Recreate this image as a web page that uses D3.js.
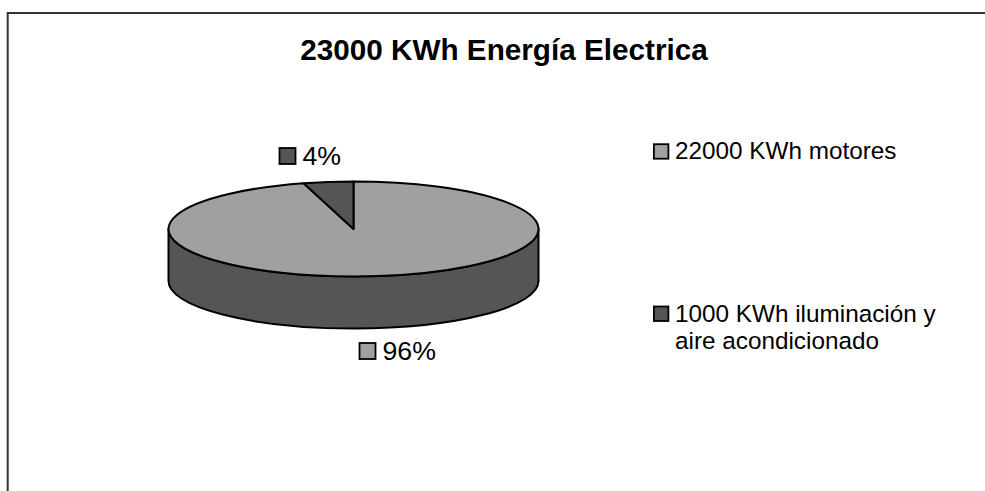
<!DOCTYPE html>
<html>
<head>
<meta charset="utf-8">
<script src="https://cdn.jsdelivr.net/npm/d3@7"></script>
<style>
  html, body { margin: 0; padding: 0; background: #fff; }
  svg { display: block; }
  text { font-family: "Liberation Sans", Arial, sans-serif; fill: #000; }
</style>
</head>
<body>
<div id="chart"></div>
<script>
/* chart data */
var titleText = "23000 KWh Energía Electrica";
var categories = ["22000 KWh motores", "1000 KWh iluminación y\naire acondicionado"];
var kwh = [22000, 1000];
var percentLabels = ["96%", "4%"];
var colors = ["#a0a0a0", "#555555"];

var width = 985, height = 491;
var cx = 353.5, cy = 229, rx = 185, ry = 47.5, depth = 52;

var svg = d3.select("#chart").append("svg")
            .attr("width", width)
            .attr("height", height);

/* outer frame, runs off the picture on the right and bottom */
svg.append("path")
   .attr("d", "M7.7," + height + "V13H" + width)
   .attr("fill", "none")
   .attr("stroke", "#333")
   .attr("stroke-width", 2);

svg.append("text")
   .attr("x", 504)
   .attr("y", 59.5)
   .attr("text-anchor", "middle")
   .style("font-size", "29.7px")
   .style("font-weight", "bold")
   .text(titleText);

var color = d3.scaleOrdinal().domain(categories).range(colors);

var pie = d3.pie().sort(null).value(function(d){ return d.value; });
var slices = pie(categories.map(function(c, i){
  return {name: c, value: kwh[i], label: percentLabels[i]};
}));

/* side wall of the disc, lower half of the ellipse pushed down */
svg.append("path")
   .attr("d", "M" + (cx - rx) + "," + cy +
              "A" + rx + "," + ry + " 0 0 0 " + (cx + rx) + "," + cy +
              "V" + (cy + depth) +
              "A" + rx + "," + ry + " 0 0 1 " + (cx - rx) + "," + (cy + depth) + "Z")
   .attr("fill", colors[1])
   .attr("stroke", "#000")
   .attr("stroke-width", 2)
   .attr("stroke-linejoin", "round");

/* top face, a normal d3 pie squashed into an ellipse */
var arc = d3.arc().innerRadius(0).outerRadius(rx);
svg.append("g")
   .attr("transform", "translate(" + cx + "," + cy + ") scale(1," + (ry / rx) + ")")
   .selectAll("path")
   .data(slices)
   .enter()
   .append("path")
   .attr("d", arc)
   .attr("fill", function(d){ return color(d.data.name); })
   .attr("stroke", "#000")
   .attr("stroke-width", 2)
   .attr("stroke-linejoin", "round")
   .attr("vector-effect", "non-scaling-stroke");

function swatch(x, y, size, fill){
  svg.append("rect")
     .attr("x", x).attr("y", y)
     .attr("width", size).attr("height", size)
     .attr("fill", fill)
     .attr("stroke", "#000")
     .attr("stroke-width", 1.8);
}

/* percent labels */
var labelPos = [{x: 359.5, y: 343}, {x: 279.5, y: 148}];
slices.forEach(function(d, i){
  swatch(labelPos[i].x, labelPos[i].y, 16, color(d.data.name));
  svg.append("text")
     .attr("x", labelPos[i].x + 23)
     .attr("y", labelPos[i].y + 17)
     .style("font-size", "26.7px")
     .text(d.data.label);
});

/* legend */
var legendBase = [159.2, 321.5];
var legend = svg.append("g");
categories.forEach(function(c, i){
  swatch(653.9, legendBase[i] - 15, 14.5, colors[i]);
  c.split("\n").forEach(function(line, j){
    legend.append("text")
          .attr("x", 675)
          .attr("y", legendBase[i] + j * 27.5)
          .style("font-size", "24.3px")
          .text(line);
  });
});
</script>
</body>
</html>
